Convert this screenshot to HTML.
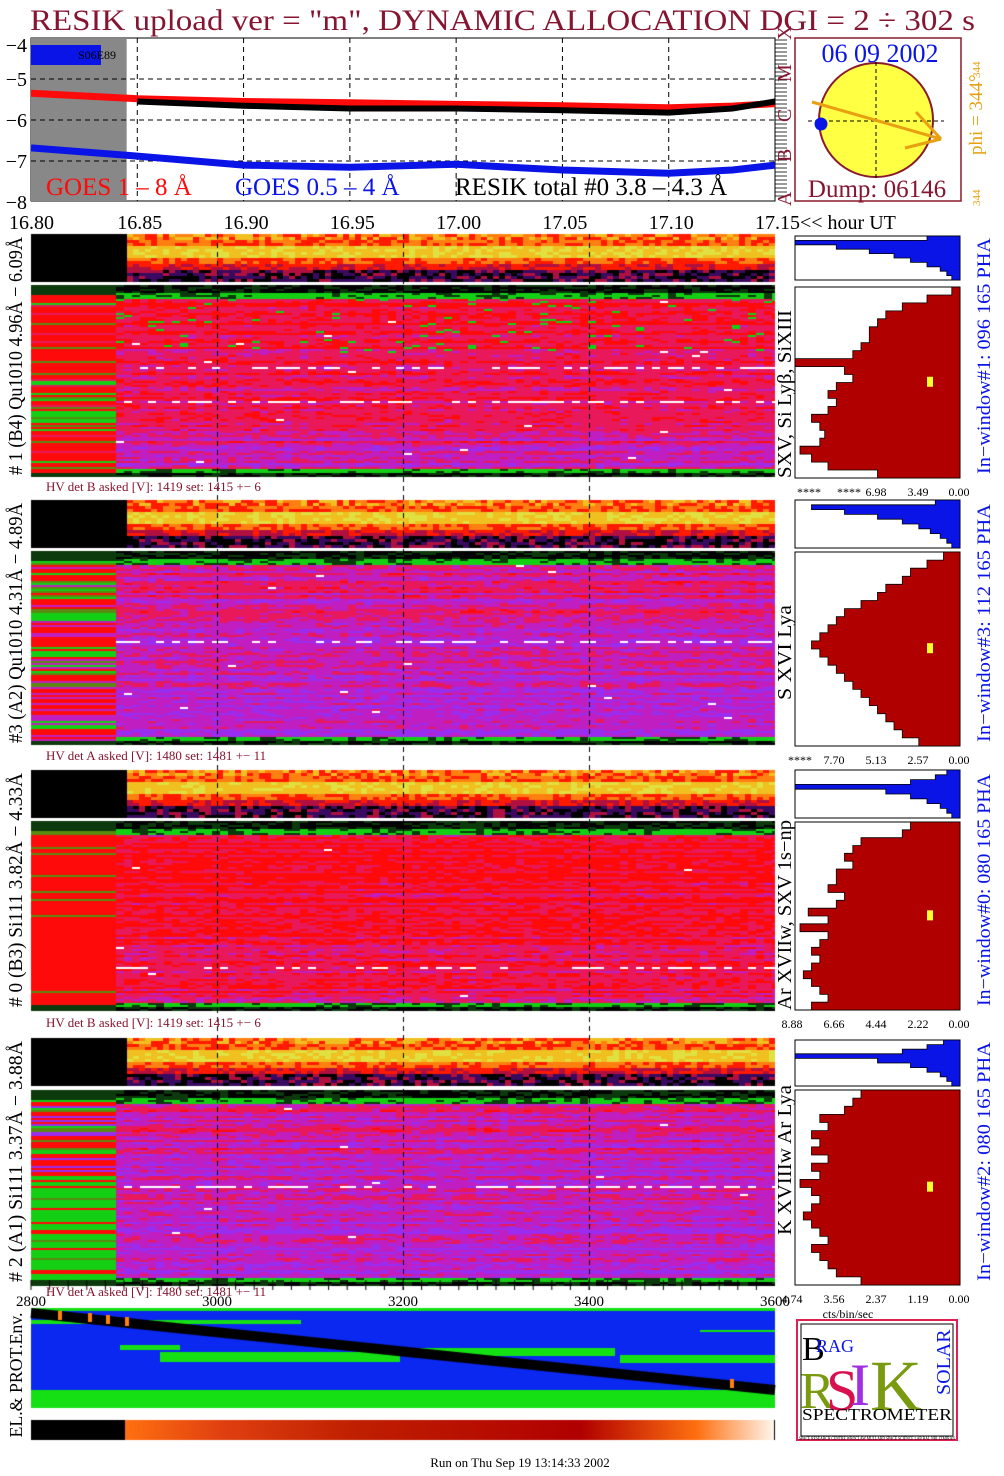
<!DOCTYPE html>
<html><head><meta charset="utf-8">
<style>
html,body{margin:0;padding:0;background:#fff;}
#wrap{position:relative;width:1004px;height:1476px;overflow:hidden;background:#fff;}
canvas,svg{position:absolute;left:0;top:0;}
text{font-family:"Liberation Serif",serif;}
</style></head>
<body>
<div id="wrap">
<canvas id="cv" width="1004" height="1476"></canvas>
<svg id="sv" width="1004" height="1476" xmlns="http://www.w3.org/2000/svg">
  <text x="30" y="30" font-size="30" fill="#851530" textLength="945" lengthAdjust="spacingAndGlyphs">RESIK upload ver = "m", DYNAMIC ALLOCATION  DGI =   2 ÷ 302 s</text>
  <g id="topchart"></g>
  <g id="sun">
    <rect x="795" y="38" width="166" height="163" fill="#fff" stroke="#8b1a2a" stroke-width="1.5"/>
    <circle cx="876" cy="120" r="57" fill="#ffff44" stroke="#8b1a2a" stroke-width="2"/>
    <line x1="808" y1="121" x2="944" y2="121" stroke="#000" stroke-dasharray="4,3"/>
    <line x1="876" y1="62" x2="876" y2="180" stroke="#000" stroke-dasharray="4,3"/>
    <circle cx="821" cy="124" r="6.5" fill="#0a14e6"/>
    <g stroke="#e8a010" stroke-width="3" fill="none">
      <line x1="812" y1="102" x2="941" y2="139"/><line x1="916" y1="112" x2="941" y2="139"/><line x1="905" y1="148" x2="941" y2="139"/>
    </g>
    <text x="880" y="62" font-size="26" fill="#0a14e6" text-anchor="middle">06 09 2002</text>
    <text x="877" y="197" font-size="25" fill="#851530" text-anchor="middle">Dump: 06146</text>
    <text transform="translate(982,155) rotate(-90)" font-size="19" fill="#e8a010">phi = 344°</text>
    <text transform="translate(980,78) rotate(-90)" font-size="11" fill="#e8a010">344</text>
    <text transform="translate(980,206) rotate(-90)" font-size="11" fill="#e8a010">344</text>
  </g>
  <g id="hists"></g>
  <g id="labels"></g>
</svg>
</div>
<script>
// ---------- TOP CHART DATA ----------
const timesHr = [16.80,16.85,16.90,16.95,17.00,17.05,17.10,17.13,17.15];
const goesLong = [-5.35,-5.48,-5.55,-5.58,-5.62,-5.65,-5.70,-5.66,-5.60];
const resikTot = [null,-5.55,-5.65,-5.72,-5.72,-5.76,-5.82,-5.72,-5.55];
const goesShort = [-6.68,-6.88,-7.10,-7.15,-7.08,-7.22,-7.30,-7.22,-7.10];
const yTicks = [-4,-5,-6,-7,-8];
const hourTicks = [16.80,16.85,16.90,16.95,17.00,17.05,17.10,17.15];
const hourLabels = ["16.80","16.85","16.90","16.95","17.00","17.05","17.10","17.15<< hour UT"];
const secTicks = [2800,3000,3200,3400,3600];

const NS='http://www.w3.org/2000/svg';
function mk(tag,attrs,parent,txt){const e=document.createElementNS(NS,tag);for(const k in attrs)e.setAttribute(k,attrs[k]);if(txt!==undefined)e.textContent=txt;parent.appendChild(e);return e;}
const X0=31,X1=775;
const xH=h=>X0+(h-16.80)/(0.35)*(X1-X0);
const yV=v=>120+(-6-v)*41;
const xS=s=>X0+(s-2800)/800*(X1-X0);

const tc=document.getElementById('topchart');
mk('rect',{x:31,y:38,width:744,height:163,fill:'#fff',stroke:'#000'},tc);
const grayR=mk('rect',{x:31,y:38,width:xH(16.845)-31,height:163,fill:'#888'},tc);


mk('rect',{x:31,y:45,width:70,height:20,fill:'#0a14e6'},tc);
mk('text',{x:78,y:59,'font-size':12,fill:'#000'},tc,'S06E89');
[-5,-6,-7].forEach(v=>mk('line',{x1:31,x2:775,y1:yV(v),y2:yV(v),stroke:'#000','stroke-dasharray':'5,4'},tc));
hourTicks.slice(1,7).forEach(h=>mk('line',{x1:xH(h),x2:xH(h),y1:38,y2:201,stroke:'#000','stroke-dasharray':'5,4'},tc));
yTicks.forEach(v=>{const t=mk('text',{x:27,y:Math.max(yV(v)+7,52),'font-size':20,'text-anchor':'end',fill:'#000'},tc,'−'+(-v));});
function series(vals,color,w,name){const pts=[];vals.forEach((v,i)=>{if(v!==null)pts.push(xH(timesHr[i]).toFixed(1)+','+yV(v).toFixed(1));});
 const p=mk('polyline',{points:pts.join(' '),fill:'none',stroke:color,'stroke-width':w},tc);}
series(goesLong,'#ff0a0a',7,'goes-long-line');
series(goesShort,'#0a14e6',7,'goes-short-line');
series(resikTot,'#000',6,'resik-total-line');
// right scale
const rs=mk('g',{},tc);
for(let y=40;y<200;y+=4)mk('line',{x1:775,x2:787,y1:y,y2:y,stroke:'#000','stroke-width':0.8},rs);
['X','M','C','B','A'].forEach((c,i)=>mk('text',{transform:`translate(791,${[40,82,122,162,206][i]}) rotate(-90)`,'font-size':20,fill:'#851530'},rs,c));
mk('text',{x:46,y:195,'font-size':25,fill:'#ff0a0a'},tc,'GOES 1 – 8 Å');
mk('text',{x:235,y:195,'font-size':25,fill:'#0a14e6'},tc,'GOES 0.5 – 4 Å');
mk('text',{x:455,y:195,'font-size':25,fill:'#000'},tc,'RESIK total #0  3.8 – 4.3 Å');
hourTicks.forEach((h,i)=>{const t=mk('text',{x:xH(h)-(i==0?22:i==7?20:20),y:229,'font-size':20,fill:'#000'},tc,hourLabels[i]);});

// ---------- HISTOGRAM DATA ----------
const histBig1=[0.05,0.2,0.35,0.45,0.5,0.55,0.55,0.6,0.65,1.0,0.7,0.65,0.75,0.8,0.75,0.8,0.9,0.85,0.82,0.85,0.97,0.9,0.8,0.5];
const histBig2=[0.1,0.2,0.3,0.35,0.45,0.5,0.6,0.7,0.75,0.8,0.85,0.9,0.85,0.8,0.75,0.7,0.65,0.6,0.55,0.5,0.45,0.4,0.35,0.25];
const histBig3=[0.3,0.35,0.6,0.65,0.7,0.65,0.75,0.75,0.8,0.7,0.75,0.92,0.8,0.97,0.8,0.85,0.9,0.85,0.9,0.95,0.9,0.85,0.8,0.9];
const histBig4=[0.6,0.65,0.7,0.85,0.8,0.9,0.85,0.9,0.8,0.9,0.85,0.97,0.9,0.85,0.9,0.95,0.9,0.85,0.8,0.9,0.85,0.8,0.75,0.6];
const histSm1=[0.2,1.0,0.75,0.55,0.4,0.3,0.2,0.12,0.08,0.05];
const histSm2=[0.15,0.9,0.7,0.5,0.35,0.25,0.18,0.12,0.08,0.05];
const histSm3=[0.08,0.15,0.3,1.0,0.45,0.3,0.2,0.12,0.08,0.05];
const histSm4=[0.1,0.2,0.35,1.0,0.5,0.3,0.2,0.12,0.08,0.05];
const histTicks1=['****','****','6.98','3.49','0.00'];
const histTicks2=['****','7.70','5.13','2.57','0.00'];
const histTicks3=['8.88','6.66','4.44','2.22','0.00'];
const histTicks4=['4.74','3.56','2.37','1.19','0.00'];

const hg=document.getElementById('hists');
const HX0=795,HX1=960;
function hist(vals,y0,y1,color,name){
 const n=vals.length,h=(y1-y0)/n;let pts=[HX1+','+y0];
 vals.forEach((v,i)=>{const x=HX1-v*(HX1-HX0);pts.push(x.toFixed(1)+','+(y0+i*h).toFixed(1));pts.push(x.toFixed(1)+','+(y0+(i+1)*h).toFixed(1));});
 pts.push(HX1+','+y1);
 mk('rect',{x:HX0,y:y0,width:HX1-HX0,height:y1-y0,fill:'#fff',stroke:'#000'},hg);
 const p=mk('polygon',{points:pts.join(' '),fill:color,stroke:'#000','stroke-width':0.8},hg);
 
}
const tickCx=[[809,849,876,918,959],[800,834,876,918,959],[792,834,876,918,959],[792,834,876,918,959]];
const hdefs=[[histSm1,histBig1,236,280,287,478,histTicks1],[histSm2,histBig2,500,548,552,746,histTicks2],[histSm3,histBig3,770,818,822,1010,histTicks3],[histSm4,histBig4,1040,1086,1090,1285,histTicks4]];
hdefs.forEach((d,k)=>{
 hist(d[0],d[2],d[3],'#0a14e6','pha-small-hist-'+(k+1));
 hist(d[1],d[4],d[5],'#b00000','pha-big-hist-'+(k+1));
 mk('rect',{x:927,y:d[4]+(d[5]-d[4])*0.47,width:6,height:10,fill:'#ffff30'},hg);
 d[6].forEach((t,i)=>{const e=mk('text',{x:tickCx[k][i],y:d[5]+18,'font-size':12,fill:'#000','text-anchor':'middle'},hg,t);});
});
mk('text',{x:848,y:1318,'font-size':12,fill:'#000','text-anchor':'middle'},hg,'cts/bin/sec');

// ---------- LABELS ----------
const lg=document.getElementById('labels');
function rot(x,y,txt,size,color,name,len){const e=mk('text',{transform:`translate(${x},${y}) rotate(-90)`,'font-size':size,fill:color,'text-anchor':'middle'},lg,txt);if(len){e.setAttribute('textLength',len);e.setAttribute('lengthAdjust','spacingAndGlyphs');}}
const panelLeft=['# 1 (B4) Qu1010 4.96Å − 6.09Å','#3 (A2) Qu1010  4.31Å − 4.89Å','# 0 (B3) Si111  3.82Å − 4.33Å','# 2 (A1) Si111  3.37Å − 3.88Å'];
const panelLine=['SXV, Si Lyβ, SiXIII','S XVI Lya','Ar XVIIw, SXV 1s−np','K XVIIIw  Ar Lya'];
const panelWin=['In−window#1:  096 165 PHA','In−window#3:  112 165 PHA','In−window#0:  080 165 PHA','In−window#2:  080 165 PHA'];
const pY=[[234,478],[500,746],[770,1010],[1038,1285]];
const lineY=[[310,478],[605,700],[820,1010],[1085,1235]];
const hvTxt=['HV det B asked [V]:  1419 set:  1415 +−    6','HV det A asked [V]:  1480 set:  1481 +−    11','HV det B asked [V]:  1419 set:  1415 +−    6','HV det A asked [V]:  1480 set:  1481 +−    11'];
const hvY=[491,760,1027,1296];
pY.forEach((r,i)=>{
 rot(22,(r[0]+r[1])/2,panelLeft[i],20,'#000','panel-label-'+(i+1),r[1]-r[0]-6);
 rot(990,(r[0]+r[1])/2,panelWin[i],19,'#0a14e6','window-label-'+(i+1),r[1]-r[0]-8);
 rot(791,(lineY[i][0]+lineY[i][1])/2,panelLine[i],20,'#000','line-label-'+(i+1),lineY[i][1]-lineY[i][0]);
 const e=mk('text',{x:46,y:hvY[i],'font-size':13,fill:'#851530'},lg,hvTxt[i]);
});
secTicks.forEach((s,i)=>{const e=mk('text',{x:xS(s),y:1306,'font-size':15,fill:'#000','text-anchor':'middle'},lg,String(s));});
rot(22,1375,'EL.& PROT.Env.',18,'#000','env-label',125);
const ft=mk('text',{x:520,y:1467,'font-size':13,fill:'#000','text-anchor':'middle'},lg,'Run on Thu Sep 19 13:14:33 2002');

// logo
const lo=mk('g',{},lg);
mk('rect',{x:797,y:1320,width:160,height:120,fill:'#fff',stroke:'#e02050','stroke-width':2},lo);
mk('rect',{x:801,y:1324,width:152,height:112,fill:'#fff',stroke:'#000','stroke-width':1},lo);
mk('text',{x:802,y:1360,'font-size':34,fill:'#000'},lo,'B');
mk('text',{x:816,y:1352,'font-size':18,fill:'#0a14e6'},lo,'RAG');
mk('text',{x:800,y:1408,'font-size':52,fill:'#7a9a10'},lo,'R');
mk('text',{x:826,y:1410,'font-size':58,fill:'#d81050'},lo,'S');
mk('text',{x:850,y:1405,'font-size':60,fill:'#a030e0'},lo,'I');
mk('text',{x:870,y:1410,'font-size':72,fill:'#7a9a10'},lo,'K');
mk('text',{transform:'translate(950,1395) rotate(-90)','font-size':20,fill:'#0a14e6'},lo,'SOLAR');
mk('text',{x:877,y:1420,'font-size':17,fill:'#000','text-anchor':'middle',textLength:150,lengthAdjust:'spacingAndGlyphs'},lo,'SPECTROMETER');
mk('text',{x:877,y:1440,'font-size':5,fill:'#000','text-anchor':'middle',textLength:156,lengthAdjust:'spacingAndGlyphs'},lo,'SPACE RESEARCH CENTRE WROCLAW MULLARD SPACE SCIENCE LAB RAL NRL IZMIRAN');
</script>
<script>
// ---------- SPECTROGRAM TEXTURE (procedural, deterministic) ----------
const cv=document.getElementById('cv');const c=cv.getContext('2d');
function hs(a,b,s){let x=Math.sin(a*12.9898+b*78.233+s*37.719)*43758.5453;return x-Math.floor(x);}
const PAL=['#000000','#0c3a0c','#14d014','#ff0a0a','#e8185a','#c01ec0','#9a2cf0','#ffffff'];
const SPAL=['#000000','#3a0a60','#b01040','#ff1a00','#ff8010','#f0c020','#e0e040','#ffff80'];
const big=[{y0:285,y1:477,le:116,b0:3.0,b1:1.9},{y0:551,y1:745,le:116,b0:4.4,b1:1.0},{y0:821,y1:1010,le:116,b0:3.2,b1:0.7},{y0:1090,y1:1285,le:116,b0:4.5,b1:0.9}];
const strips=[{y0:234,y1:282,le:127},{y0:500,y1:548,le:127},{y0:770,y1:818,le:127},{y0:1038,y1:1086,le:127}];
const R0=31,R1=775;
big.forEach((p,k)=>{
 const H=p.y1-p.y0;
 for(let y=p.y0;y<p.y1;y+=2){
  const t=(y-p.y0)/H, rn=hs(y,k,1);
  let L;
  if(t<0.05||t>0.97) L=1;
  else if(k==0) L=rn<0.3?2:(rn<0.4?4:3);
  else if(k==1) L=rn<0.3?2:(rn<0.5?5:3);
  else if(k==2) L=rn<0.15?2:3;
  else L=t>0.45?(rn<0.8?2:3):(rn<0.3?2:(rn<0.6?6:3));
  c.fillStyle=L==2&&rn<0.15?'#5a8a10':PAL[L];c.fillRect(R0,y,p.le-R0,2);
  for(let x=p.le;x<R1;x+=8){
   const cn=hs(x,y,k+3);let lv;
   if(t<0.04||t>0.975) lv=cn<0.6?0:1;
   else if(t<0.07||t>0.955) lv=cn<0.3?1:2;
   else{
    lv=Math.round(p.b0+p.b1*t+(rn-0.5)*1.6+(cn-0.5)*1.3);
    lv=Math.max(3,Math.min(6,lv));
    if(cn>0.998||(rn>0.99&&cn>0.5)) lv=7;
    if(k==0&&t<0.35&&cn<0.04) lv=2;
   }
   c.fillStyle=PAL[lv];c.fillRect(x,y,Math.min(8,R1-x),2);
  }
 }
});
strips.forEach((p,k)=>{
 c.fillStyle='#000';c.fillRect(R0,p.y0,p.le-R0,p.y1-p.y0);
 const H=p.y1-p.y0;
 for(let y=p.y0;y<p.y1;y+=3){
  const t=(y-p.y0)/H;
  for(let x=p.le;x<R1;x+=6){
   const n=hs(x,y,k+11);let v;
   if(t<0.08)v=3+n*3;else if(t<0.25)v=3+n*2;else if(t<0.5)v=5+n*1.6;else if(t<0.62)v=3.3+n*1.5;else if(t<0.72)v=2.3+n*1.5;else v=n*2.6;
   c.fillStyle=SPAL[Math.min(7,Math.floor(v))];c.fillRect(x,y,6,3);
  }
 }
});
c.strokeStyle='#000';c.setLineDash([5,4]);c.lineWidth=1;
[3000,3200,3400].forEach(s=>{const x=Math.round(31+(s-2800)/800*744)+0.5;c.beginPath();c.moveTo(x,234);c.lineTo(x,1290);c.stroke();});
c.setLineDash([]);
for(let x=31;x<=775;x+=18.6){c.beginPath();c.moveTo(x,1280);c.lineTo(x,1290);c.stroke();}
// env panel
c.fillStyle='#0a28f0';c.fillRect(31,1308,744,100);
c.fillStyle='#14e014';
c.fillRect(31,1390,744,18);c.fillRect(31,1320,270,4);c.fillRect(120,1345,60,5);c.fillRect(160,1352,240,10);c.fillRect(400,1348,215,8);c.fillRect(620,1355,155,8);c.fillRect(700,1330,75,2);c.fillRect(31,1308,744,3);
c.strokeStyle='#000';c.lineWidth=10;c.beginPath();c.moveTo(31,1313);c.lineTo(775,1390);c.stroke();
c.fillStyle='#ff8010';[[58,1316],[88,1318],[106,1320],[125,1322],[730,1384]].forEach(p=>c.fillRect(p[0],p[1]-5,4,9));
// color bar
c.fillStyle='#000';c.fillRect(31,1420,94,20);
const g=c.createLinearGradient(125,0,775,0);
g.addColorStop(0,'#ff7010');g.addColorStop(0.15,'#e04010');g.addColorStop(0.35,'#c02000');g.addColorStop(0.7,'#b00000');g.addColorStop(0.88,'#ff7010');g.addColorStop(1,'#fff8f0');
c.fillStyle=g;c.fillRect(125,1420,650,20);
c.fillStyle='#000';c.fillRect(774,1420,1,20);
</script>
</body></html>
